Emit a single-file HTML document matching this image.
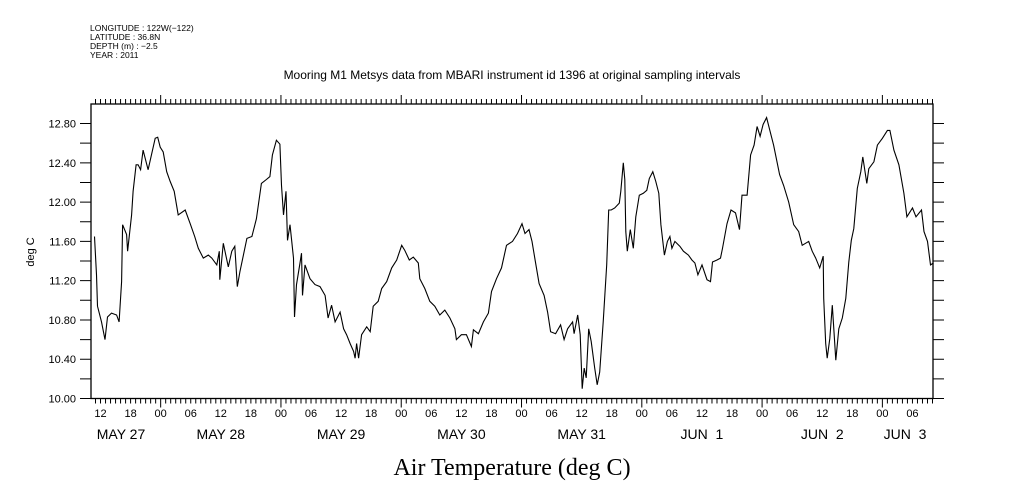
<!DOCTYPE html>
<html><head><meta charset="utf-8"><style>
body{margin:0;background:#fff;}
svg{display:block;font-family:"Liberation Sans",sans-serif;}
</style></head><body>
<svg id="chart" width="1009" height="504" viewBox="0 0 1009 504" xmlns="http://www.w3.org/2000/svg">
<g font-size="8.5" fill="#000">
<text x="90" y="31">LONGITUDE : 122W(−122)</text>
<text x="90" y="40">LATITUDE : 36.8N</text>
<text x="90" y="49">DEPTH (m) : −2.5</text>
<text x="90" y="58">YEAR : 2011</text>
</g>
<text x="512" y="79" text-anchor="middle" font-size="12">Mooring M1 Metsys data from MBARI instrument id 1396 at original sampling intervals</text>
<text transform="translate(34,252) rotate(-90)" text-anchor="middle" font-size="11">deg C</text>
<text x="512" y="475" text-anchor="middle" font-family="Liberation Serif, serif" font-size="24">Air Temperature (deg C)</text>
<g id="axes"></g>
<g id="series"></g>
</svg>
<script>
const hours=[10.8,11.2,11.4,12.2,12.9,13.4,14.2,15.2,15.7,16.2,16.4,17.2,17.4,18.2,18.5,19.1,19.5,20.0,20.5,21.5,22.9,23.4,23.9,24.5,25.2,25.9,26.7,27.5,28.9,29.9,30.8,31.5,32.5,33.5,34.2,35.2,35.7,35.8,36.5,37.5,38.2,38.8,39.3,39.8,40.5,41.2,42.2,43.1,44.1,45.1,45.8,46.3,47.1,47.8,48.1,48.5,49.0,49.3,49.8,50.5,50.7,51.1,51.8,52.1,52.3,52.8,53.8,54.8,55.8,56.8,57.4,58.1,58.8,59.8,60.5,61.1,61.8,62.5,62.8,63.1,63.5,64.1,65.1,65.8,66.4,67.4,68.1,69.1,70.1,71.1,72.1,72.7,73.6,74.4,75.4,75.7,76.7,77.7,78.7,79.7,80.7,81.7,82.7,83.0,84.0,85.0,86.0,86.4,87.4,88.4,89.4,90.0,91.0,92.0,93.0,94.2,95.2,96.1,96.7,97.5,98.1,98.7,99.5,100.5,101.2,101.8,102.8,103.8,104.5,105.2,106.2,106.5,107.2,107.7,108.1,108.5,108.9,109.4,109.9,110.6,111.1,111.6,112.3,113.0,113.4,113.9,114.6,115.5,115.8,116.3,116.6,116.8,117.1,117.7,118.3,118.8,119.5,120.3,121.0,121.5,122.2,122.8,123.4,123.8,124.5,125.1,125.6,126.0,126.6,127.6,128.3,129.3,130.0,130.6,131.2,132.0,133.0,133.7,134.1,135.0,135.7,136.1,137.0,137.8,138.7,139.5,140.0,141.0,141.7,142.4,143.0,143.6,144.2,144.9,145.7,146.3,147.5,148.3,149.3,150.3,151.3,152.0,153.3,154.0,154.7,155.5,156.2,156.3,156.7,157.0,157.5,158.0,158.7,159.3,160.0,160.7,161.3,161.8,162.3,163.0,163.7,164.1,164.9,165.3,166.3,167.0,168.0,169.0,169.5,170.3,171.3,172.3,172.9,174.0,174.7,175.8,176.3,177.0,177.6,178.2];
const temps=[11.65,11.26,10.94,10.78,10.60,10.83,10.87,10.85,10.78,11.19,11.77,11.67,11.50,11.87,12.11,12.38,12.38,12.33,12.53,12.33,12.65,12.66,12.56,12.51,12.31,12.21,12.11,11.87,11.92,11.78,11.65,11.53,11.43,11.46,11.43,11.36,11.50,11.21,11.58,11.34,11.50,11.55,11.14,11.29,11.46,11.63,11.65,11.83,12.19,12.23,12.26,12.48,12.63,12.59,12.17,11.87,12.11,11.61,11.77,11.43,10.83,11.16,11.38,11.48,11.05,11.36,11.22,11.16,11.14,11.05,10.82,10.95,10.78,10.88,10.71,10.65,10.56,10.48,10.41,10.56,10.41,10.65,10.73,10.68,10.94,10.99,11.12,11.19,11.33,11.41,11.56,11.51,11.41,11.44,11.38,11.22,11.12,10.99,10.94,10.85,10.90,10.82,10.71,10.60,10.65,10.65,10.53,10.70,10.66,10.78,10.87,11.09,11.22,11.33,11.56,11.60,11.68,11.78,11.68,11.72,11.60,11.41,11.17,11.05,10.88,10.68,10.66,10.75,10.60,10.71,10.78,10.66,10.85,10.65,10.10,10.31,10.21,10.71,10.58,10.31,10.14,10.27,10.78,11.36,11.92,11.92,11.94,11.99,12.11,12.40,12.23,11.70,11.50,11.72,11.53,11.85,12.07,12.09,12.12,12.24,12.31,12.21,12.09,11.77,11.46,11.60,11.65,11.53,11.60,11.55,11.50,11.46,11.41,11.38,11.26,11.36,11.21,11.19,11.39,11.41,11.43,11.53,11.78,11.92,11.89,11.72,12.07,12.07,12.48,12.58,12.77,12.67,12.79,12.86,12.70,12.58,12.28,12.17,12.00,11.77,11.70,11.56,11.60,11.50,11.43,11.33,11.45,11.02,10.56,10.41,10.61,10.95,10.39,10.71,10.82,11.02,11.39,11.61,11.73,12.14,12.31,12.46,12.19,12.34,12.41,12.58,12.65,12.73,12.73,12.53,12.38,12.09,11.85,11.94,11.85,11.92,11.70,11.60,11.36,11.38];
const yTicks=[10.0,10.4,10.8,11.2,11.6,12.0,12.4,12.8];
const hourTickLabels=["12","18","00","06","12","18","00","06","12","18","00","06","12","18","00","06","12","18","00","06","12","18","00","06","12","18","00","06"];
const dateLabels=["MAY 27","MAY 28","MAY 29","MAY 30","MAY 31","JUN  1","JUN  2","JUN  3"];

const L=91,R=933,T=104,B=398.5;
const H0=10.1,H1=178.1,V0=10,V1=12.8;
const x=h=>L+(h-H0)/(H1-H0)*(R-L);
const y=v=>B-(v-V0)*98.2;
const NS="http://www.w3.org/2000/svg";
function mk(tag,attrs,parent){const e=document.createElementNS(NS,tag);for(const k in attrs)e.setAttribute(k,attrs[k]);parent.appendChild(e);return e;}
const ax=document.getElementById('axes');
const frame=mk('rect',{x:L,y:T,width:R-L,height:B-T,fill:'none',stroke:'#000','stroke-width':1.3},ax);


let d='';
for(let h=Math.ceil(H0);h<=H1;h++){const px=x(h);const len=(h%24===0)?9:5;d+=`M${px},${T}v${-len}M${px},${B}v${len}`;}
for(let v=10;v<=12.81;v+=0.2){const py=y(v);d+=`M${L},${py}h-11M${R},${py}h11`;}
const tk=mk('path',{d:d,stroke:'#000','stroke-width':1,fill:'none'},ax);


yTicks.forEach(v=>{
 const t=mk('text',{x:L-15,y:y(v)+4,'text-anchor':'end','font-size':11},ax);t.textContent=v.toFixed(2);
 
 
});
hourTickLabels.forEach((s,i)=>{
 const h=12+6*i;
 const t=mk('text',{x:x(h),y:417,'text-anchor':'middle','font-size':11},ax);t.textContent=s;
 
 
});
dateLabels.forEach((s,i)=>{
 let cx=x(12+24*i);
 cx=Math.max(cx,L+30);cx=Math.min(cx,R-28);
 const t=mk('text',{x:cx,y:439,'text-anchor':'middle','font-size':14,'xml:space':'preserve'},ax);t.textContent=s;
 t.style.whiteSpace='pre';
 
 
});
const sg=document.getElementById('series');
const pts=hours.map((h,i)=>`${x(h).toFixed(1)},${y(temps[i]).toFixed(1)}`).join(' ');
const line=mk('polyline',{points:pts,fill:'none',stroke:'#000','stroke-width':1.1},sg);


</script>
</body></html>
